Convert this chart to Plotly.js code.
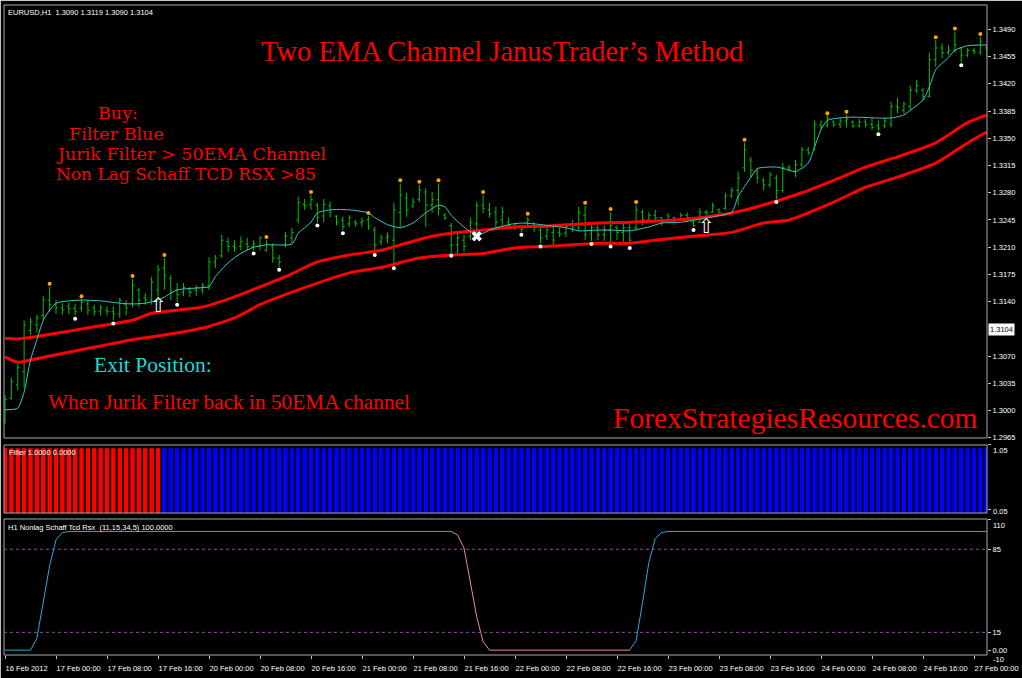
<!DOCTYPE html>
<html><head><meta charset="utf-8">
<script src="https://cdn.plot.ly/plotly-3.0.1.min.js"></script>
<style>html,body{margin:0;padding:0;background:#000;overflow:hidden}#chart{width:1022px;height:678px}</style>
</head><body><div id="chart"></div>
<script>
// ---- price bars (EURUSD H1) ----
const open = [
1.2988,1.3016,1.3033,1.3050,1.3103,1.3110,1.3122,1.3142,1.3136,1.3132,
1.3134,1.3131,1.3132,1.3137,1.3132,1.3128,1.3129,1.3127,1.3124,1.3136,
1.3138,1.3155,1.3145,1.3142,1.3155,1.3183,1.3170,1.3155,1.3152,1.3155,
1.3155,1.3155,1.3160,1.3191,1.3199,1.3217,1.3211,1.3211,1.3214,1.3211,
1.3211,1.3206,1.3211,1.3196,1.3213,1.3222,1.3245,1.3265,1.3265,1.3264,
1.3250,1.3263,1.3250,1.3245,1.3240,1.3242,1.3242,1.3245,1.3232,1.3217,
1.3222,1.3219,1.3255,1.3273,1.3263,1.3271,1.3281,1.3264,1.3271,1.3251,
1.3238,1.3213,1.3219,1.3224,1.3240,1.3264,1.3258,1.3255,1.3245,1.3242,
1.3237,1.3236,1.3242,1.3240,1.3232,1.3224,1.3229,1.3229,1.3228,1.3238,
1.3235,1.3251,1.3227,1.3235,1.3226,1.3232,1.3235,1.3229,1.3235,1.3235,
1.3255,1.3245,1.3251,1.3248,1.3245,1.3248,1.3246,1.3251,1.3242,1.3242,
1.3255,1.3255,1.3258,1.3260,1.3276,1.3283,1.3312,1.3322,1.3307,1.3296,
1.3290,1.3299,1.3283,1.3312,1.3307,1.3316,1.3335,1.3335,1.3367,1.3367,
1.3371,1.3368,1.3372,1.3371,1.3366,1.3371,1.3368,1.3366,1.3366,1.3368,
1.3391,1.3386,1.3391,1.3412,1.3412,1.3404,1.3451,1.3466,1.3460,1.3463,
1.3466,1.3457,1.3463,1.3461,1.3466];
const high = [
1.3020,1.3042,1.3060,1.3116,1.3119,1.3123,1.3147,1.3159,1.3142,1.3138,
1.3139,1.3137,1.3144,1.3142,1.3136,1.3136,1.3134,1.3134,1.3145,1.3142,
1.3169,1.3158,1.3151,1.3172,1.3187,1.3196,1.3174,1.3164,1.3164,1.3159,
1.3161,1.3164,1.3197,1.3200,1.3226,1.3222,1.3219,1.3224,1.3222,1.3219,
1.3224,1.3219,1.3215,1.3200,1.3229,1.3235,1.3275,1.3272,1.3277,1.3267,
1.3272,1.3268,1.3251,1.3249,1.3251,1.3245,1.3248,1.3250,1.3236,1.3226,
1.3229,1.3267,1.3292,1.3280,1.3273,1.3290,1.3286,1.3281,1.3292,1.3254,
1.3241,1.3229,1.3226,1.3248,1.3268,1.3277,1.3267,1.3262,1.3262,1.3248,
1.3241,1.3238,1.3249,1.3242,1.3235,1.3238,1.3236,1.3235,1.3241,1.3245,
1.3262,1.3263,1.3238,1.3242,1.3238,1.3255,1.3238,1.3242,1.3242,1.3264,
1.3258,1.3255,1.3258,1.3249,1.3254,1.3249,1.3254,1.3255,1.3245,1.3260,
1.3258,1.3267,1.3260,1.3280,1.3287,1.3307,1.3344,1.3326,1.3312,1.3299,
1.3307,1.3303,1.3318,1.3316,1.3322,1.3339,1.3339,1.3373,1.3373,1.3380,
1.3373,1.3376,1.3380,1.3373,1.3375,1.3375,1.3376,1.3373,1.3376,1.3397,
1.3402,1.3397,1.3418,1.3425,1.3415,1.3460,1.3476,1.3472,1.3470,1.3487,
1.3467,1.3466,1.3466,1.3480,1.3470];
const low = [
1.2983,1.3014,1.3026,1.3029,1.3097,1.3101,1.3116,1.3127,1.3124,1.3123,
1.3124,1.3122,1.3127,1.3123,1.3122,1.3122,1.3122,1.3116,1.3119,1.3122,
1.3133,1.3133,1.3136,1.3136,1.3142,1.3155,1.3142,1.3139,1.3147,1.3146,
1.3147,1.3150,1.3155,1.3183,1.3196,1.3204,1.3204,1.3206,1.3206,1.3206,
1.3206,1.3204,1.3190,1.3184,1.3210,1.3215,1.3241,1.3258,1.3258,1.3242,
1.3242,1.3248,1.3238,1.3232,1.3236,1.3236,1.3236,1.3232,1.3204,1.3213,
1.3215,1.3187,1.3236,1.3249,1.3260,1.3268,1.3236,1.3254,1.3251,1.3245,
1.3202,1.3202,1.3204,1.3219,1.3229,1.3254,1.3248,1.3236,1.3238,1.3236,
1.3232,1.3229,1.3236,1.3229,1.3215,1.3219,1.3213,1.3223,1.3223,1.3229,
1.3232,1.3219,1.3218,1.3219,1.3218,1.3215,1.3219,1.3217,1.3213,1.3232,
1.3238,1.3241,1.3241,1.3238,1.3241,1.3242,1.3245,1.3242,1.3236,1.3242,
1.3251,1.3254,1.3251,1.3258,1.3273,1.3264,1.3307,1.3299,1.3292,1.3283,
1.3287,1.3272,1.3280,1.3307,1.3300,1.3313,1.3328,1.3335,1.3361,1.3364,
1.3364,1.3363,1.3364,1.3363,1.3364,1.3364,1.3361,1.3359,1.3363,1.3364,
1.3382,1.3382,1.3386,1.3408,1.3399,1.3402,1.3442,1.3453,1.3457,1.3460,
1.3448,1.3454,1.3458,1.3457,1.3454];
const close = [
1.3014,1.3037,1.3055,1.3110,1.3114,1.3119,1.3142,1.3136,1.3132,1.3129,
1.3131,1.3127,1.3139,1.3129,1.3127,1.3132,1.3127,1.3124,1.3142,1.3132,
1.3161,1.3142,1.3142,1.3165,1.3181,1.3174,1.3152,1.3149,1.3158,1.3152,
1.3158,1.3160,1.3191,1.3196,1.3219,1.3211,1.3209,1.3217,1.3211,1.3214,
1.3222,1.3214,1.3196,1.3191,1.3224,1.3229,1.3267,1.3263,1.3271,1.3248,
1.3265,1.3255,1.3242,1.3237,1.3248,1.3240,1.3244,1.3237,1.3213,1.3222,
1.3224,1.3258,1.3277,1.3258,1.3268,1.3283,1.3264,1.3271,1.3260,1.3248,
1.3213,1.3222,1.3211,1.3242,1.3263,1.3260,1.3253,1.3242,1.3255,1.3238,
1.3236,1.3233,1.3245,1.3235,1.3222,1.3232,1.3219,1.3227,1.3237,1.3235,
1.3255,1.3226,1.3235,1.3226,1.3232,1.3238,1.3229,1.3235,1.3219,1.3258,
1.3245,1.3251,1.3248,1.3242,1.3250,1.3245,1.3251,1.3248,1.3238,1.3255,
1.3254,1.3263,1.3255,1.3276,1.3283,1.3299,1.3335,1.3309,1.3299,1.3290,
1.3303,1.3283,1.3312,1.3309,1.3316,1.3335,1.3332,1.3367,1.3364,1.3376,
1.3368,1.3372,1.3375,1.3366,1.3371,1.3368,1.3364,1.3363,1.3372,1.3391,
1.3389,1.3394,1.3412,1.3418,1.3404,1.3451,1.3466,1.3460,1.3463,1.3470,
1.3457,1.3463,1.3461,1.3474,1.3463];

// ---- EMA channel (50 EMA of highs / lows), read at sampled bars ----
const emaHighIdx = [0,2,4,10,15,20,23,31,36,40,44,49,54,59,62,67,70,75,80,85,93,98,103,108,114,118,125,130,135,140,146,151,154];
const emaHigh = [1.3093,1.3092,1.3094,1.3102,1.3109,1.3116,1.3125,1.3133,1.3146,1.3159,1.3172,1.3191,1.3200,1.3206,1.3213,1.3224,1.3228,1.3232,1.3236,1.3237,1.3241,1.3242,1.3244,1.3247,1.3254,1.3262,1.3280,1.3296,1.3313,1.3326,1.3344,1.3370,1.3380];
const emaLowIdx = [0,2,4,10,15,20,25,31,36,40,46,54,59,65,70,75,80,85,93,98,103,108,114,119,123,130,135,140,146,151,154];
const emaLow = [1.3069,1.3062,1.3065,1.3075,1.3083,1.3091,1.3097,1.3106,1.3119,1.3136,1.3155,1.3177,1.3184,1.3196,1.3200,1.3202,1.3209,1.3211,1.3215,1.3215,1.3220,1.3224,1.3229,1.3241,1.3245,1.3268,1.3287,1.3300,1.3318,1.3344,1.3358];

// ---- Jurik filter ----
const jurikIdx = [0,2,3,4,5,6,7,8,10,12,15,18,20,22,24,25,27,31,32,33,35,37,39,41,45,46,48,49,51,54,57,58,60,62,64,66,68,69,70,71,73,75,76,79,81,83,86,88,90,93,95,98,101,103,106,109,111,114,115,117,118,121,123,124,126,127,128,129,132,134,137,139,141,142,144,145,146,148,149,151,154];
const jurik = [1.3001,1.3003,1.3024,1.3065,1.3091,1.3116,1.3129,1.3138,1.3141,1.3142,
1.3141,1.3138,1.3137,1.3138,1.3142,1.3146,1.3155,1.3158,1.3159,1.3172,
1.3190,1.3202,1.3210,1.3213,1.3214,1.3228,1.3242,1.3254,1.3258,1.3258,
1.3254,1.3248,1.3239,1.3235,1.3241,1.3254,1.3264,1.3262,1.3251,1.3243,
1.3230,1.3228,1.3232,1.3239,1.3241,1.3240,1.3237,1.3235,1.3231,1.3232,
1.3232,1.3231,1.3236,1.3241,1.3242,1.3246,1.3249,1.3255,1.3275,1.3300,
1.3311,1.3313,1.3309,1.3307,1.3318,1.3339,1.3361,1.3373,1.3377,1.3377,
1.3376,1.3376,1.3380,1.3386,1.3399,1.3416,1.3438,1.3454,1.3463,1.3469,
1.3470];

// ---- fractals, signals ----
const fracUpIdx = [7,12,20,25,41,48,57,62,65,68,75,82,91,95,99,116,129,132,146,149,153];
const fracUpVal = [1.3163,1.3147,1.3173,1.3200,1.3223,1.3281,1.3254,1.3296,1.3294,1.3296,1.3281,1.3253,1.3267,1.3259,1.3268,1.3348,1.3382,1.3384,1.3480,1.3491,1.3484];
const fracDnIdx = [11,17,27,39,43,49,53,58,61,70,81,84,92,95,98,108,121,137,150];
const fracDnVal = [1.3118,1.3112,1.3136,1.3202,1.3181,1.3238,1.3228,1.3200,1.3183,1.3199,1.3226,1.3211,1.3214,1.3211,1.3209,1.3232,1.3268,1.3355,1.3444];
const buyArrowIdx = [24,110];
const buyArrowVal = [1.3133,1.3235];
const exitIdx = [74];
const exitVal = [1.3224];
const bidPrice = 1.3104;

// ---- Filter histogram (red / blue state) ----
const filterRed = [1,1,1,1,1,1,1,1,1,1,1,1,1,1,1,1,1,1,1,1,1,1,1,1,1,
0,0,0,0,0,0,0,0,0,0,0,0,0,0,0,0,0,0,0,0,0,0,0,0,0,0,0,0,0,0,0,0,0,0,0,0,0,0,0,0,0,0,0,0,0,
0,0,0,0,0,0,0,0,0,0,0,0,0,0,0,0,0,0,0,0,0,0,0,0,0,0,0,0,0,0,0,0,0,0,0,0,0,0,0,0,0,0,0,0,0,
0,0,0,0,0,0,0,0,0,0,0,0,0,0,0,0,0,0,0,0,0,0,0,0,0,0,0,0,0,0,0,0,0,0,0,0,0,0,0,0];
const filterBlue = [0,0,0,0,0,0,0,0,0,0,0,0,0,0,0,0,0,0,0,0,0,0,0,0,0,
1,1,1,1,1,1,1,1,1,1,1,1,1,1,1,1,1,1,1,1,1,1,1,1,1,1,1,1,1,1,1,1,1,1,1,1,1,1,1,1,1,1,1,1,1,
1,1,1,1,1,1,1,1,1,1,1,1,1,1,1,1,1,1,1,1,1,1,1,1,1,1,1,1,1,1,1,1,1,1,1,1,1,1,1,1,1,1,1,1,1,
1,1,1,1,1,1,1,1,1,1,1,1,1,1,1,1,1,1,1,1,1,1,1,1,1,1,1,1,1,1,1,1,1,1,1,1,1,1,1,1];

// ---- Nonlag Schaff TCD RSX ----
const schaff = [0,0,0,0,0,10,41,71,93,99,
100,100,100,100,100,100,100,100,100,100,100,100,100,100,100,100,100,100,100,100,
100,100,100,100,100,100,100,100,100,100,100,100,100,100,100,100,100,100,100,100,
100,100,100,100,100,100,100,100,100,100,100,100,100,100,100,100,100,100,100,100,100,
97,86,58,28,7,0,
0,0,0,0,0,0,0,0,0,0,0,0,0,0,0,0,0,0,0,0,0,0,
8,40,74,94,99,
100,100,100,100,100,100,100,100,100,100,100,100,100,100,100,100,100,100,100,100,
100,100,100,100,100,100,100,100,100,100,100,100,100,100,100,100,100,100,100,100,
100,100,100,100,100,100,100,100,100,100,100];
const schaffLevels = [85,15];

// ---- axis ticks ----
const priceTicks = [1.2965,1.3000,1.3035,1.3070,1.3140,1.3175,1.3210,1.3245,1.3280,1.3315,1.3350,1.3385,1.3420,1.3455,1.3490];
const timeTickIdx = [0,8,16,24,32,40,48,56,64,72,80,88,96,104,112,120,128,136,144,152];
const timeTickText = ['16 Feb 2012','17 Feb 00:00','17 Feb 08:00','17 Feb 16:00','20 Feb 00:00','20 Feb 08:00','20 Feb 16:00','21 Feb 00:00','21 Feb 08:00','21 Feb 16:00','22 Feb 00:00','22 Feb 08:00','22 Feb 16:00','23 Feb 00:00','23 Feb 08:00','23 Feb 16:00','24 Feb 00:00','24 Feb 08:00','24 Feb 16:00','27 Feb 00:00'];
const filterTicks = [1.05, 0.05];
const schaffTicks = [110, 85, 15, 0];

const bars = open.map((_, i) => i);

// Schaff colour by direction
const sUp = schaff.map(() => null), sDn = schaff.map(() => null);
let st = 'up';
for (let i = 0; i < schaff.length; i++) {
  if (i > 0 && schaff[i] < schaff[i-1]) st = 'dn';
  else if (i > 0 && schaff[i] > schaff[i-1]) st = 'up';
  if (st === 'up') { sUp[i] = schaff[i]; if (i > 0) sUp[i-1] = schaff[i-1]; }
  else { sDn[i] = schaff[i]; if (i > 0) sDn[i-1] = schaff[i-1]; }
}

const small = {family: 'Liberation Sans, Arial, sans-serif', size: 7.5, color: '#ffffff'};
const serif = 'Liberation Serif, Times New Roman, serif';
const serif2 = 'DejaVu Serif, Liberation Serif, serif';

const traces = [
  {type: 'ohlc', x: bars, open: open, high: high, low: low, close: close, xaxis: 'x', yaxis: 'y',
   increasing: {line: {color: '#00c000', width: 1}}, decreasing: {line: {color: '#00c000', width: 1}},
   tickwidth: 0.3, hoverinfo: 'skip', showlegend: false},
  {type: 'scatter', mode: 'lines', x: emaHighIdx, y: emaHigh, yaxis: 'y',
   line: {color: '#ff0000', width: 3, shape: 'spline', smoothing: 0.6}, hoverinfo: 'skip'},
  {type: 'scatter', mode: 'lines', x: emaLowIdx, y: emaLow, yaxis: 'y',
   line: {color: '#ff0000', width: 3, shape: 'spline', smoothing: 0.6}, hoverinfo: 'skip'},
  {type: 'scatter', mode: 'lines', x: jurikIdx, y: jurik, yaxis: 'y',
   line: {color: '#3cc8c8', width: 1, shape: 'spline', smoothing: 0.6}, hoverinfo: 'skip'},
  {type: 'scatter', mode: 'markers', x: fracUpIdx, y: fracUpVal, yaxis: 'y',
   marker: {color: '#ffa500', size: 4}, hoverinfo: 'skip'},
  {type: 'scatter', mode: 'markers', x: fracDnIdx, y: fracDnVal, yaxis: 'y',
   marker: {color: '#ffffff', size: 4}, hoverinfo: 'skip'},
  {type: 'scatter', mode: 'text', x: buyArrowIdx, y: buyArrowVal, yaxis: 'y', text: buyArrowIdx.map(() => '⇧'),
   textposition: 'middle center', textfont: {family: 'DejaVu Sans', size: 20, color: '#ffffff'}, hoverinfo: 'skip'},
  {type: 'scatter', mode: 'markers', x: exitIdx, y: exitVal, yaxis: 'y',
   marker: {symbol: 'x', color: '#ffffff', size: 9, line: {width: 0}}, hoverinfo: 'skip'},
  {type: 'bar', x: bars, y: filterRed, yaxis: 'y2', marker: {color: '#ff0000', line: {width: 0}}, hoverinfo: 'skip'},
  {type: 'bar', x: bars, y: filterBlue, yaxis: 'y2', marker: {color: '#0000ff', line: {width: 0}}, hoverinfo: 'skip'},
  {type: 'scatter', mode: 'lines', x: bars, y: sUp, yaxis: 'y3', connectgaps: false,
   line: {color: '#2aa8dc', width: 1}, hoverinfo: 'skip'},
  {type: 'scatter', mode: 'lines', x: bars, y: sDn, yaxis: 'y3', connectgaps: false,
   line: {color: '#f08c8c', width: 1}, hoverinfo: 'skip'}
];

const paneBorder = '#a8a8a8';
const shapes = [
  {type: 'rect', xref: 'paper', yref: 'y domain', x0: 0, x1: 1, y0: 0, y1: 1, line: {color: paneBorder, width: 1}},
  {type: 'rect', xref: 'paper', yref: 'y2 domain', x0: 0, x1: 1, y0: 0, y1: 1, line: {color: paneBorder, width: 1}},
  {type: 'rect', xref: 'paper', yref: 'y3 domain', x0: 0, x1: 1, y0: 0, y1: 1, line: {color: paneBorder, width: 1}},
  {type: 'line', xref: 'paper', yref: 'paper', x0: -0.005, x1: 1.04, y0: 1.0069, y1: 1.0069, line: {color: '#c8c8c8', width: 1}},
  {type: 'line', xref: 'paper', yref: 'paper', x0: -0.0036, x1: -0.0036, y0: -0.04, y1: 1.01, line: {color: '#c8c8c8', width: 1}}
].concat(schaffLevels.map(v => ({type: 'line', xref: 'paper', yref: 'y3', x0: 0, x1: 1, y0: v, y1: v,
  line: {color: '#9a4aa8', width: 1, dash: 'dot'}})));

function ann(text, x, y, font, xanchor) {
  return {text: text, xref: 'paper', yref: 'paper', x: x, y: y, xanchor: xanchor || 'left', yanchor: 'middle',
    showarrow: false, font: font, borderpad: 0};
}
const red = '#ff0000';
const annotations = [
  ann('EURUSD,H1  1.3090 1.3119 1.3090 1.3104', 0.003, 0.9892, small),
  ann('Two EMA Channel JanusTrader’s Method', 0.5066, 0.9277, {family: serif, size: 28.5, color: red}, 'center'),
  ann('Buy:', 0.0946, 0.8338, {family: serif2, size: 17.5, color: red}),
  ann('Filter Blue', 0.0651, 0.8023, {family: serif2, size: 17.5, color: red}),
  ann('Jurik Filter &gt; 50EMA Channel', 0.0519, 0.7708, {family: serif2, size: 17.5, color: red}),
  ann('Non Lag Schaff TCD RSX &gt;85', 0.0519, 0.7393, {family: serif2, size: 17, color: red}),
  ann('Exit Position:', 0.0905, 0.4462, {family: serif, size: 21.5, color: '#1ed8d8'}),
  ann('When Jurik Filter back in 50EMA channel', 0.0437, 0.3892, {family: serif, size: 21.3, color: red}),
  ann('ForexStrategiesResources.com', 0.6185, 0.3646, {family: serif, size: 29.5, color: red}),
  ann('Filter 1.0000 0.0000', 0.0041, 0.3123, small),
  ann('H1 Nonlag Schaff Tcd Rsx  (11,15,34,5) 100.0000', 0.003, 0.1954, small),
  ann('1.05', 1.0055, (655 - 450) / 650, small),
  ann('0.05', 1.0055, (655 - 511) / 650, small),
  ann('110', 1.0055, (655 - 525) / 650, small),
  ann('-10', 1.0055, (655 - 659.5) / 650, small),
  {text: bidPrice.toFixed(4), xref: 'paper', yref: 'y', x: 1.0015, y: bidPrice, xanchor: 'left', yanchor: 'middle',
   showarrow: false, bgcolor: '#ffffff', borderpad: 1, font: {family: small.family, size: 7.5, color: '#000000'}}
];

const yCommon = {side: 'right', showgrid: false, zeroline: false, ticks: 'outside', ticklen: 3, tickcolor: '#c0c0c0',
  tickfont: small, fixedrange: true};

const layout = {
  width: 1022, height: 678,
  margin: {l: 4, r: 35, t: 5, b: 23, pad: 0},
  paper_bgcolor: '#000000', plot_bgcolor: '#000000',
  showlegend: false, hovermode: false,
  barmode: 'overlay', bargap: 0.3,
  xaxis: {anchor: 'y3', range: [-0.16, 154.04], showgrid: false, zeroline: false,
    tickvals: timeTickIdx, ticktext: timeTickText, ticks: 'outside', ticklen: 3, tickcolor: '#c0c0c0',
    tickangle: 0, ticklabelposition: 'outside right', ticklabelstandoff: 6, tickfont: small,
    rangeslider: {visible: false}, fixedrange: true},
  yaxis: Object.assign({}, yCommon, {domain: [0.33385, 1], range: [1.29647, 1.35213], tickvals: priceTicks,
    ticktext: priceTicks.map(v => v.toFixed(4))}),
  yaxis2: Object.assign({}, yCommon, {domain: [0.21846, 0.32308], range: [0, 1.05],
    tickvals: filterTicks, ticktext: filterTicks.map(() => '')}),
  yaxis3: Object.assign({}, yCommon, {domain: [0, 0.20923], range: [-4.1, 110.5],
    tickvals: schaffTicks, ticktext: ['', '85', '15', '0.00']}),
  shapes: shapes,
  annotations: annotations
};

Plotly.newPlot('chart', traces, layout, {staticPlot: true, displayModeBar: false});
</script>
</body></html>
